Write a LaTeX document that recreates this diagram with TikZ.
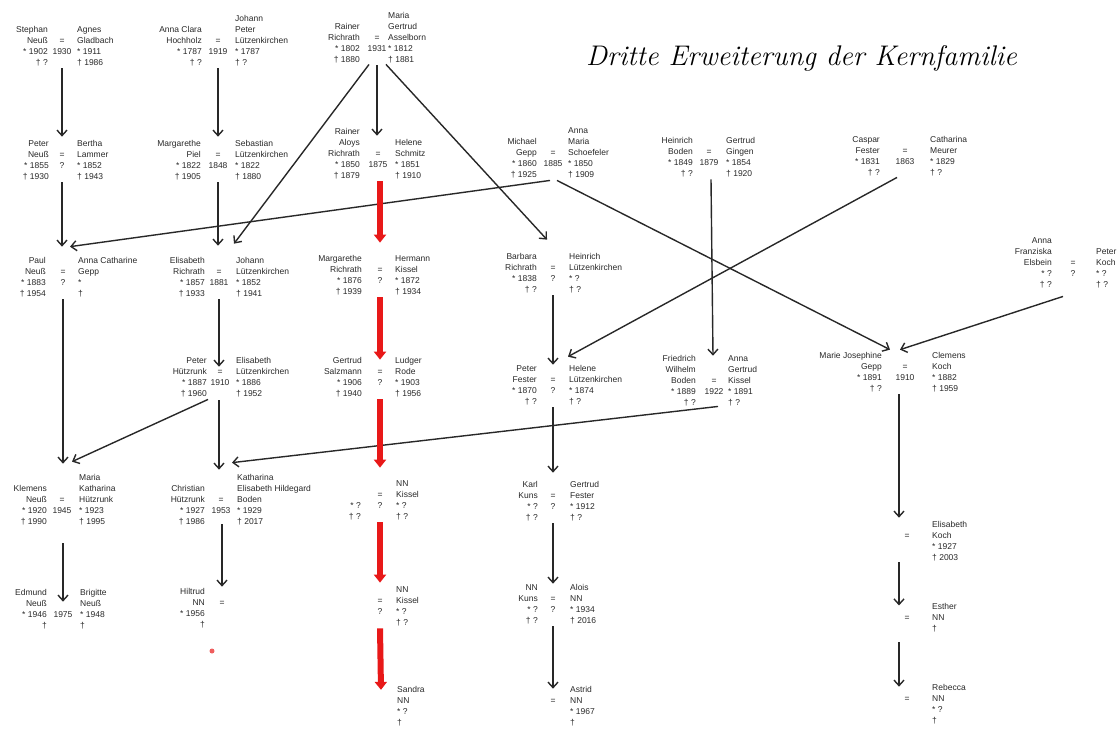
\documentclass[tikz,border=0pt]{standalone}
\usepackage{fontspec}
\usetikzlibrary{arrows.meta}
\newfontfamily\pfont{Liberation Sans}
\definecolor{redline}{RGB}{232,24,24}
\definecolor{ink}{RGB}{40,40,40}
\newcommand\pcolR[1]{\begin{tabular}[b]{@{}r@{}}#1\end{tabular}}
\newcommand\pcolC[1]{\begin{tabular}[b]{@{}c@{}}#1\end{tabular}}
\newcommand\pcolL[1]{\begin{tabular}[b]{@{}l@{}}#1\end{tabular}}
% #1 name, #2 x of left text end, #3 x of middle, #4 x of right text start, #5 baseline of last row
\newcommand\couple[8]{%
  \node[pl,anchor=base east] (#1L) at (#2,#5) {\pcolR{#6}};
  \node[pl,anchor=base] (#1M) at (#3,#5) {\pcolC{#7}};
  \node[pl,anchor=base west] (#1R) at (#4,#5) {\pcolL{#8}};
}
\begin{document}
\begin{tikzpicture}[x=1pt,y=-1pt,
  pl/.style={inner sep=0pt, font=\pfont\fontsize{8.5}{10.8}\selectfont, text=ink},
  arr/.style={draw=ink, line width=1.4pt, -{Straight Barb[length=5.5pt,width=10pt]}},
  redarr/.style={draw=redline, line width=6pt, -{Triangle[length=8pt,width=12pt]}}]
\useasboundingbox (0,0) rectangle (1118,729);

\node[anchor=base west, inner sep=0pt, font=\fontsize{28.4}{32}\selectfont\itshape] (title) at (586,65) {Dritte Erweiterung der Kernfamilie};

\couple{A}{48}{62}{77}{65}{Stephan\\Neuß\\{*} 1902\\† ?}{=\\1930\\{}}{Agnes\\Gladbach\\{*} 1911\\† 1986}
\couple{Bc}{202}{218}{235}{65}{Anna Clara\\Hochholz\\{*} 1787\\† ?}{=\\1919\\{}}{Johann\\Peter\\Lützenkirchen\\{*} 1787\\† ?}
\couple{C}{360}{377}{388}{62}{Rainer\\Richrath\\{*} 1802\\† 1880}{=\\1931\\{}}{Maria\\Gertrud\\Asselborn\\{*} 1812\\† 1881}
\couple{D}{360}{378}{395}{178}{Rainer\\Aloys\\Richrath\\{*} 1850\\† 1879}{=\\1875\\{}}{Helene\\Schmitz\\{*} 1851\\† 1910}
\couple{E}{49}{62}{77}{179}{Peter\\Neuß\\{*} 1855\\† 1930}{=\\?\\{}}{Bertha\\Lammer\\{*} 1852\\† 1943}
\couple{F}{201}{218}{235}{179}{Margarethe\\Piel\\{*} 1822\\† 1905}{=\\1848\\{}}{Sebastian\\Lützenkirchen\\{*} 1822\\† 1880}
\couple{G}{537}{553}{568}{177}{Michael\\Gepp\\{*} 1860\\† 1925}{=\\1885\\{}}{Anna\\Maria\\Schoefeler\\{*} 1850\\† 1909}
\couple{H}{693}{709}{726}{176}{Heinrich\\Boden\\{*} 1849\\† ?}{=\\1879\\{}}{Gertrud\\Gingen\\{*} 1854\\† 1920}
\couple{I}{880}{905}{930}{175}{Caspar\\Fester\\{*} 1831\\† ?}{=\\1863\\{}}{Catharina\\Meurer\\{*} 1829\\† ?}
\couple{J}{1052}{1073}{1096}{287}{Anna\\Franziska\\Elsbein\\{*} ?\\† ?}{=\\?\\{}}{Peter\\Koch\\{*} ?\\† ?}
\couple{K}{46}{63}{78}{296}{Paul\\Neuß\\{*} 1883\\† 1954}{=\\?\\{}}{Anna Catharine\\Gepp\\{*}\\†}
\couple{L}{205}{219}{236}{296}{Elisabeth\\Richrath\\{*} 1857\\† 1933}{=\\1881\\{}}{Johann\\Lützenkirchen\\{*} 1852\\† 1941}
\couple{M}{362}{380}{395}{294}{Margarethe\\Richrath\\{*} 1876\\† 1939}{=\\?\\{}}{Hermann\\Kissel\\{*} 1872\\† 1934}
\couple{N}{537}{553}{569}{292}{Barbara\\Richrath\\{*} 1838\\† ?}{=\\?\\{}}{Heinrich\\Lützenkirchen\\{*} ?\\† ?}
\couple{O}{207}{220}{236}{396}{Peter\\Hützrunk\\{*} 1887\\† 1960}{=\\1910\\{}}{Elisabeth\\Lützenkirchen\\{*} 1886\\† 1952}
\couple{P}{362}{380}{395}{396}{Gertrud\\Salzmann\\{*} 1906\\† 1940}{=\\?\\{}}{Ludger\\Rode\\{*} 1903\\† 1956}
\couple{Q}{537}{553}{569}{404}{Peter\\Fester\\{*} 1870\\† ?}{=\\?\\{}}{Helene\\Lützenkirchen\\{*} 1874\\† ?}
\couple{R}{696}{714}{728}{405}{Friedrich\\Wilhelm\\Boden\\{*} 1889\\† ?}{=\\1922\\{}}{Anna\\Gertrud\\Kissel\\{*} 1891\\† ?}
\couple{S}{882}{905}{932}{391}{Marie Josephine\\Gepp\\{*} 1891\\† ?}{=\\1910\\{}}{Clemens\\Koch\\{*} 1882\\† 1959}
\couple{T}{47}{62}{79}{524}{Klemens\\Neuß\\{*} 1920\\† 1990}{=\\1945\\{}}{Maria\\Katharina\\Hützrunk\\{*} 1923\\† 1995}
\couple{U}{205}{221}{237}{524}{Christian\\Hützrunk\\{*} 1927\\† 1986}{=\\1953\\{}}{Katharina\\Elisabeth Hildegard\\Boden\\{*} 1929\\† 2017}
\couple{W}{47}{63}{80}{628}{Edmund\\Neuß\\{*} 1946\\†}{{}\\1975\\{}}{Brigitte\\Neuß\\{*} 1948\\†}
\couple{X}{361}{380}{396}{519}{{*} ?\\† ?}{=\\?\\{}}{NN\\Kissel\\{*} ?\\† ?}
\couple{AA}{538}{553}{570}{520}{Karl\\Kuns\\{*} ?\\† ?}{=\\?\\{}}{Gertrud\\Fester\\{*} 1912\\† ?}
\couple{BB}{538}{553}{570}{623}{NN\\Kuns\\{*} ?\\† ?}{=\\?\\{}}{Alois\\NN\\{*} 1934\\† 2016}

\node[pl,anchor=base east] (VL) at (205,627) {\pcolR{Hiltrud\\NN\\{*} 1956\\†}};
\node[pl,anchor=base] (VM) at (222,627) {\pcolC{=\\{}\\{}}};
\node[pl,anchor=base] (YM) at (380,625) {\pcolC{=\\?\\{}}};
\node[pl,anchor=base west] (YR) at (396,625) {\pcolL{NN\\Kissel\\{*} ?\\† ?}};
\node[pl,anchor=base west] (ZR) at (397,725) {\pcolL{Sandra\\NN\\{*} ?\\†}};
\node[pl,anchor=base] (CCM) at (553,725) {\pcolC{=\\{}\\{}}};
\node[pl,anchor=base west] (CCR) at (570,725) {\pcolL{Astrid\\NN\\{*} 1967\\†}};
\node[pl,anchor=base] (DDM) at (907,560) {\pcolC{=\\{}\\{}}};
\node[pl,anchor=base west] (DDR) at (932,560) {\pcolL{Elisabeth\\Koch\\{*} 1927\\† 2003}};
\node[pl,anchor=base] (EEM) at (907,631) {\pcolC{=\\{}}};
\node[pl,anchor=base west] (EER) at (932,631) {\pcolL{Esther\\NN\\†}};
\node[pl,anchor=base] (FFM) at (907,723) {\pcolC{=\\{}\\{}}};
\node[pl,anchor=base west] (FFR) at (932,723) {\pcolL{Rebecca\\NN\\{*} ?\\†}};

\fill[redline!70] (212,651) circle[radius=2.5pt];

% black connectors
\draw[arr] (AM.south) -- ([shift={(0,-13)}]EM.north);
\draw[arr] (BcM.south) -- ([shift={(0,-13)}]FM.north);
\draw[arr] ([shift={(-8,-1)}]CM.south) -- ([shift={(15,-23)}]LM.north);
\draw[arr] (CM.south) -- ([shift={(-1,-13)}]DM.north);
\draw[arr] ([shift={(9,-1)}]CM.south) -- ([shift={(-6,-23)}]NM.north);
\draw[arr] (EM.south) -- ([shift={(-1,-20)}]KM.north);
\draw[arr] (FM.south) -- ([shift={(-1,-21)}]LM.north);
\draw[arr] ([shift={(-3,0)}]GM.south) -- ([shift={(7,-20)}]KM.north);
\draw[arr] ([shift={(4,0)}]GM.south) -- ([shift={(-15,-12)}]SM.north);
\draw[arr] ([shift={(2,0)}]HM.south) -- ([shift={(-1,-20)}]RM.north);
\draw[arr] ([shift={(-8,-1)}]IM.south) -- ([shift={(15,-18)}]QM.north);
\draw[arr] ([shift={(-10,6)}]JM.south) -- ([shift={(-5,-12)}]SM.north);
\draw[arr] (KM.south) -- ([shift={(1,-31)}]TM.north);
\draw[arr] (LM.south) -- ([shift={(-1,0)}]OM.north);
\draw[arr] ([shift={(-12,0)}]OM.south) -- ([shift={(10,-33)}]TM.north);
\draw[arr] ([shift={(-1,1)}]OM.south) -- ([shift={(-2,-25)}]UM.north);
\draw[arr] (NM.south) -- ([shift={(0,-10)}]QM.north);
\draw[arr] (QM.south) -- ([shift={(0,-18)}]AAM.north);
\draw[arr] ([shift={(4,-2)}]RM.south) -- ([shift={(11,-32)}]UM.north);
\draw[arr] ([shift={(-6,0)}]SM.south) -- ([shift={(-8,-13)}]DDM.north);
\draw[arr] ([shift={(1,16)}]TM.south) -- ([shift={(0,3)}]WM.north);
\draw[arr] ([shift={(1,-3)}]UM.south) -- ([shift={(0,-11)}]VM.north);
\draw[arr] (AAM.south) -- ([shift={(0,-10)}]BBM.north);
\draw[arr] (BBM.south) -- ([shift={(0,-7)}]CCM.north);
\draw[arr] ([shift={(-8,-1)}]DDM.south) -- ([shift={(-8,-7)}]EEM.north);
\draw[arr] ([shift={(-8,8)}]EEM.south) -- ([shift={(-8,-7)}]FFM.north);

% red line of descent
\draw[redarr] ([shift={(2,0)}]DM.south) -- ([shift={(0,-22)}]MM.north);
\draw[redarr] (MM.south) -- ([shift={(0,-7)}]PM.north);
\draw[redarr] (PM.south) -- ([shift={(0,-22)}]XM.north);
\draw[redarr] (XM.south) -- ([shift={(0,-13)}]YM.north);
\draw[redarr] (YM.south) -- ([shift={(-16,5)}]ZR.north west);
\end{tikzpicture}
\end{document}
